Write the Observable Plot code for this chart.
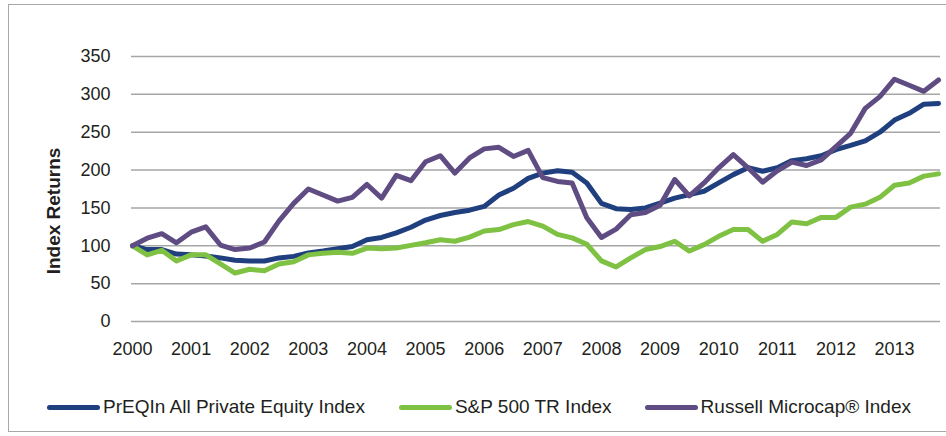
<!DOCTYPE html>
<html>
<head>
<meta charset="utf-8">
<script src="https://cdn.jsdelivr.net/npm/d3@7"></script>
<script src="https://cdn.jsdelivr.net/npm/@observablehq/plot@0.6"></script>
<style>
  html, body { margin: 0; padding: 0; background: #fff; }
  body { width: 946px; height: 436px; position: relative; overflow: hidden;
         font-family: "Liberation Sans", Arial, sans-serif; }
  #frame { position: absolute; left: 8px; top: 4px; width: 960px; height: 428px;
           border: 1.5px solid #a8a8a8; box-sizing: border-box; }
  #chart { position: absolute; left: 0; top: 0; }
  #legend { position: absolute; left: 47px; top: 396px; display: flex; align-items: center;
            font-size: 19px; color: #231f20; white-space: nowrap; }
  .item { display: flex; align-items: center; }
  .sw { width: 53px; height: 5px; border-radius: 3px; margin-right: 3px; }
</style>
</head>
<body>
<div id="frame"></div>
<div id="chart"></div>
<div id="legend"></div>
<script>
const quarters = [
  "2000Q1","2000Q2","2000Q3","2000Q4","2001Q1","2001Q2","2001Q3","2001Q4",
  "2002Q1","2002Q2","2002Q3","2002Q4","2003Q1","2003Q2","2003Q3","2003Q4",
  "2004Q1","2004Q2","2004Q3","2004Q4","2005Q1","2005Q2","2005Q3","2005Q4",
  "2006Q1","2006Q2","2006Q3","2006Q4","2007Q1","2007Q2","2007Q3","2007Q4",
  "2008Q1","2008Q2","2008Q3","2008Q4","2009Q1","2009Q2","2009Q3","2009Q4",
  "2010Q1","2010Q2","2010Q3","2010Q4","2011Q1","2011Q2","2011Q3","2011Q4",
  "2012Q1","2012Q2","2012Q3","2012Q4","2013Q1","2013Q2","2013Q3","2013Q4"
];
const yearTicks = ["2000Q1","2001Q1","2002Q1","2003Q1","2004Q1","2005Q1","2006Q1",
  "2007Q1","2008Q1","2009Q1","2010Q1","2011Q1","2012Q1","2013Q1"];
const yTicks = [0, 50, 100, 150, 200, 250, 300, 350];

const seriesNames = ["PrEQIn All Private Equity Index", "S&P 500 TR Index", "Russell Microcap® Index"];
const seriesColors = ["#203f7f", "#7fc243", "#5f4c82"];

const preqin = [100,95,95,89,88,86.5,84,81,80,80,84,86,90.5,93,96,99,
  108,111,117,124.5,134,140,144,147,152,167,176,189,196,199,197,183,
  156,149,148,150,156.5,163,167.5,172,183,194,203,198.5,203,212.5,215,219,
  227,232.5,238.5,250,266,275,287,288];
const sp500 = [100,88,94,80,88,88,76,64,69,67,76,79,88,90,91.5,90,
  97,96,97,100.5,104,108,106,111.5,119.5,121.5,128,132,126,115,110.5,102,
  80,72,84,95,99,106,93,101.5,112.5,121.5,121.5,106,115,131.5,129,137.5,
  137.5,151,155,164,180,183,192,195];
const russell = [100,110,116,104,118,125,101,95,97,105,133,156,175,167,159,164,
  181,163,193,186,211,219,196,216,228,230,218,226,190,185,183,137,
  111,122,141,144,153.5,187.5,166,183,203,220.5,203,184,199,210.5,206,213.5,
  231,248.5,281.5,297,320,312,304,319];

const allValues = [preqin, sp500, russell];
const data = seriesNames.flatMap((name, s) =>
  quarters.map((q, i) => ({quarter: q, value: allValues[s][i], series: name})));

const chart = Plot.plot({
  width: 946,
  height: 375,
  marginLeft: 132,
  marginRight: 8,
  marginTop: 56,
  marginBottom: 54,
  style: {
    fontFamily: '"Liberation Sans", Arial, sans-serif',
    fontSize: "18px",
    color: "#231f20",
    background: "transparent"
  },
  x: {type: "point", domain: quarters, padding: 0},
  y: {domain: [0, 350]},
  color: {domain: seriesNames, range: seriesColors},
  marks: [
    Plot.ruleY(yTicks, {stroke: "#a6a6a6", strokeWidth: 1.5, x1: () => quarters[0], x2: () => quarters[quarters.length - 1], insetLeft: -1, insetRight: -2}),
    Plot.axisY({ticks: yTicks, tickSize: 0, tickPadding: 22, label: null}),
    Plot.axisX({ticks: yearTicks, tickSize: 0, tickPadding: 21, tickFormat: d => d.slice(0, 4), label: null}),
    Plot.text(["Index Returns"], {frameAnchor: "left", textAnchor: "middle", rotate: -90, dx: -79, dy: 22, fontWeight: "bold", fontSize: 19, fill: "#231f20"}),
    Plot.lineY(data, {x: "quarter", y: "value", stroke: "series", z: "series", strokeWidth: 5, strokeLinejoin: "round", strokeLinecap: "round"})
  ]
});
document.getElementById("chart").appendChild(chart);

const legend = document.getElementById("legend");
const gaps = [0, 34, 33];
seriesNames.forEach((name, i) => {
  const item = document.createElement("div");
  item.className = "item";
  item.style.marginLeft = gaps[i] + "px";
  const sw = document.createElement("div");
  sw.className = "sw";
  sw.style.background = seriesColors[i];
  const label = document.createElement("span");
  label.textContent = name;
  item.appendChild(sw);
  item.appendChild(label);
  legend.appendChild(item);
});
</script>
</body>
</html>
